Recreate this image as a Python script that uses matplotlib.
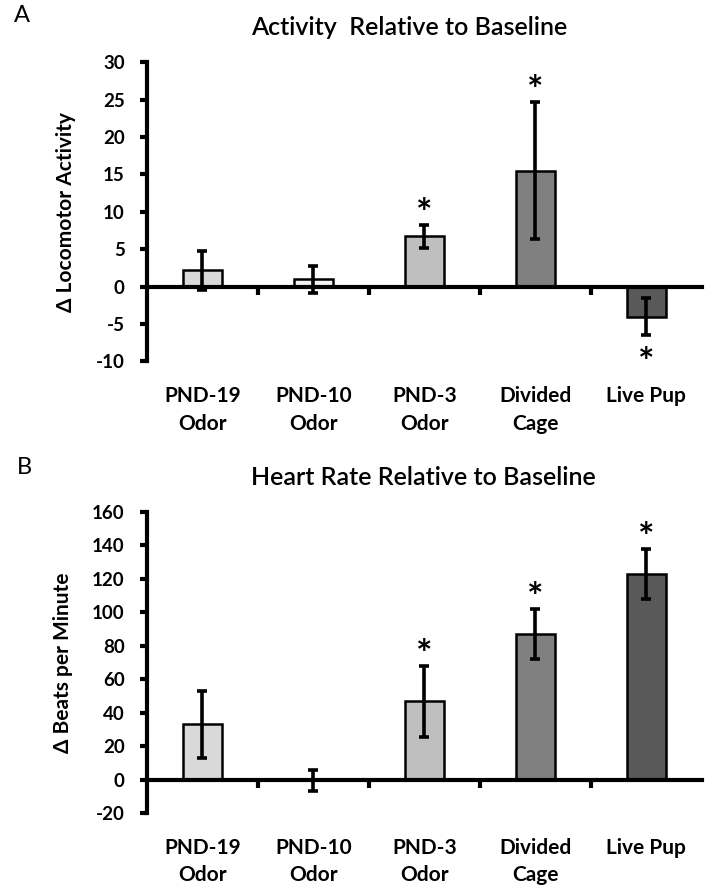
import matplotlib
matplotlib.use('Agg')
import matplotlib.pyplot as plt
import numpy as np

plt.rcParams['font.family'] = ['Lato', 'DejaVu Sans']
plt.rcParams['axes.unicode_minus'] = False

categories = ['PND-19\nOdor', 'PND-10\nOdor', 'PND-3\nOdor', 'Divided\nCage', 'Live Pup']
bar_colors = ['#d9d9d9', '#f2f2f2', '#bfbfbf', '#808080', '#595959']

# panel A: change in locomotor activity
activity_mean = [2.2, 1.0, 6.7, 15.5, -4.0]
activity_err = [2.6, 1.8, 1.5, 9.2, 2.5]
activity_sig = [False, False, True, True, True]

# panel B: change in heart rate
heart_mean = [33.0, -0.5, 46.7, 86.8, 123.0]
heart_err = [20.0, 6.3, 21.0, 15.0, 15.0]
heart_sig = [False, False, True, True, True]


def draw_panel(ax, means, errs, sig, ylim, yticks, ylabel):
    x = np.arange(len(categories))
    ax.bar(x, means, width=0.35, color=bar_colors, edgecolor='black', linewidth=1.8, zorder=2)
    ax.errorbar(x, means, yerr=errs, fmt='none', ecolor='black', elinewidth=2.6,
                capsize=3.5, capthick=2.6, zorder=3)

    ax.set_xlim(-0.5, len(categories) - 0.5)
    ax.set_ylim(*ylim)
    ax.set_yticks(yticks)
    ax.set_xticks(x[:-1] + 0.5)
    ax.set_xticklabels([])

    for side in ['top', 'right']:
        ax.spines[side].set_visible(False)
    ax.spines['bottom'].set_position(('data', 0))
    ax.spines['bottom'].set_linewidth(3)
    ax.spines['left'].set_linewidth(3)
    ax.spines['bottom'].set_zorder(4)
    ax.tick_params(axis='x', direction='out', length=6, width=3)
    ax.tick_params(axis='y', direction='out', length=5, width=3, labelsize=13.5, pad=11)
    for lab in ax.get_yticklabels():
        lab.set_fontweight('bold')

    ax.set_ylabel(ylabel, fontsize=15, fontweight='bold', labelpad=14)

    for i, c in enumerate(categories):
        ax.annotate(c, xy=(i, 0), xycoords=('data', 'axes fraction'),
                    xytext=(0, -18), textcoords='offset points',
                    ha='center', va='top', fontsize=15, fontweight='bold', linespacing=1.45)

    for i in range(len(means)):
        if not sig[i]:
            continue
        if means[i] >= 0:
            ax.annotate('*', xy=(i, means[i] + errs[i]), xytext=(0, -5),
                        textcoords='offset points', ha='center', va='bottom',
                        fontsize=28, fontweight='bold')
        else:
            ax.annotate('*', xy=(i, means[i] - errs[i]), xytext=(0, -8),
                        textcoords='offset points', ha='center', va='top',
                        fontsize=28, fontweight='bold')


fig = plt.figure(figsize=(7.06, 8.88), dpi=100)
ax1 = fig.add_axes([0.208, 0.593, 0.786, 0.337])
ax2 = fig.add_axes([0.208, 0.0845, 0.786, 0.339])

draw_panel(ax1, activity_mean, activity_err, activity_sig, (-10, 30),
           np.arange(-10, 31, 5), 'Δ Locomotor Activity')
draw_panel(ax2, heart_mean, heart_err, heart_sig, (-20, 160),
           np.arange(-20, 161, 20), 'Δ Beats per Minute')

fig.text(0.579, 0.969, 'Activity  Relative to Baseline', ha='center', va='center',
         fontsize=18, fontweight='semibold')
fig.text(0.600, 0.462, 'Heart Rate Relative to Baseline', ha='center', va='center',
         fontsize=18, fontweight='semibold')
fig.text(0.031, 0.983, 'A', ha='center', va='center', fontsize=17)
fig.text(0.034, 0.474, 'B', ha='center', va='center', fontsize=17)

fig.savefig('out.png', dpi=100, facecolor='white')
